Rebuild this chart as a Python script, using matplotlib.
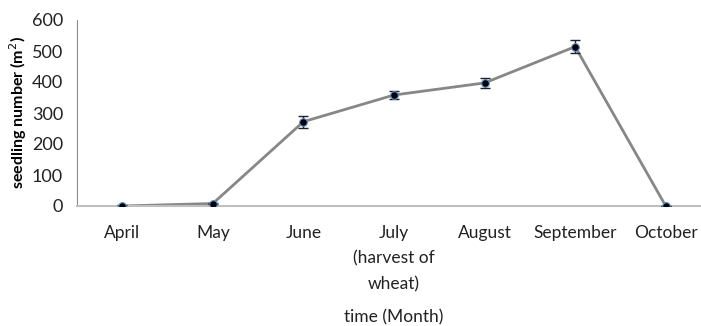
import matplotlib
matplotlib.use("Agg")
import matplotlib.pyplot as plt

months = ["April", "May", "June", "July\n(harvest of\nwheat)", "August", "September", "October"]
seedlings = [0, 8, 272, 358, 397, 514, 0]
errors = [2, 3, 19, 13, 17, 21, 0]

plt.rcParams["font.family"] = ["Lato", "DejaVu Sans"]

fig = plt.figure(figsize=(7.01, 3.26), dpi=100)
ax = fig.add_axes([77 / 701, 1 - 206 / 326, 634 / 701, 186 / 326])

x = list(range(len(months)))
ax.plot(x, seedlings, color="#878787", lw=2, zorder=2)
ax.errorbar(x, seedlings, yerr=errors, fmt="none", ecolor="#222222",
            elinewidth=1, capsize=3.5, capthick=1, zorder=3)
ax.plot(x, seedlings, "o", ms=5.5, color="black", mec="#5b8fd0", mew=0.8, zorder=4)

ax.set_xlim(-0.5, 6.5)
ax.set_ylim(0, 600)
ax.set_yticks(range(0, 601, 100))
ax.set_xticks(x)
ax.set_xticklabels(months, fontsize=12.5, linespacing=1.7, color="#222222")
ax.tick_params(axis="y", labelsize=13, labelcolor="#222222", length=0, pad=10)
ax.tick_params(axis="x", length=0, pad=14)

for side in ["top", "right"]:
    ax.spines[side].set_visible(False)
ax.spines["left"].set_color("#8c8c8c")
ax.spines["bottom"].set_color("#bfbfbf")
ax.spines["bottom"].set_linewidth(1.5)

ax.set_ylabel("seedling number (m$^2$)", fontsize=11.5, fontweight="bold", labelpad=2)
fig.text(394 / 701, 1 - 317 / 326, "time (Month)", fontsize=12.5, ha="center", va="center",
         color="#222222")

fig.savefig("out.png", dpi=100)
